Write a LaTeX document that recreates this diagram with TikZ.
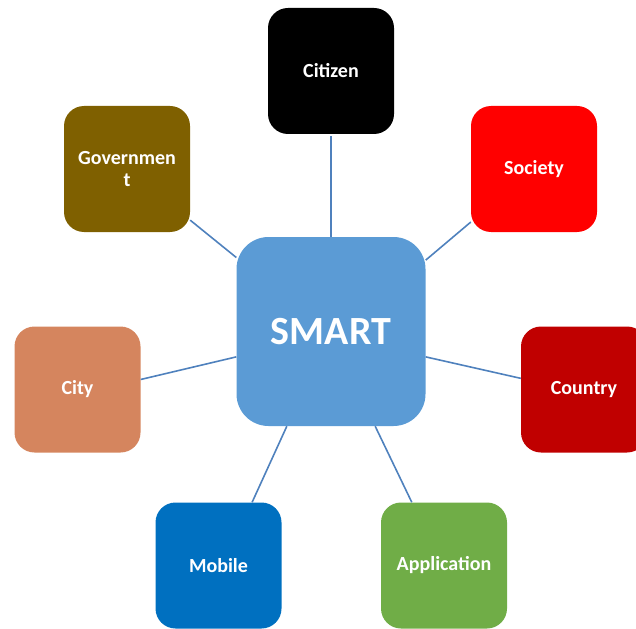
\documentclass[tikz,border=0pt]{standalone}
\usepackage{fontspec}
\setmainfont{Carlito}
\definecolor{cgov}{HTML}{7F6000}
\definecolor{csoc}{HTML}{FF0000}
\definecolor{ccity}{HTML}{D5855E}
\definecolor{ccountry}{HTML}{C00000}
\definecolor{cmobile}{HTML}{0070C0}
\definecolor{capp}{HTML}{70AD47}
\definecolor{csmart}{HTML}{5B9BD5}
\definecolor{cline}{HTML}{4F81BD}
\begin{document}
\begin{tikzpicture}[x=1pt,y=-1pt,
  box/.style={rectangle, rounded corners=20pt, minimum width=126pt, minimum height=126pt,
    inner sep=0pt, text=white, align=center,
    font=\fontsize{20}{22}\selectfont\bfseries},
  hub/.style={rectangle, rounded corners=32pt, minimum width=189pt, minimum height=189pt,
    inner sep=0pt, fill=csmart, text=white,
    font=\fontsize{40}{44}\selectfont\bfseries},
  link/.style={draw=cline, line width=1.6pt}]
\useasboundingbox (0,0) rectangle (636,628);
\clip (0,0) rectangle (636,628);
\node[hub] (smart) at (331,331.5) {SMART};
\node[box, fill=black] (citizen) at (331,71) {Citizen};
\node[box, fill=cgov] (gov) at (127,169) {Governmen\\t};
\node[box, fill=csoc] (soc) at (534,169) {Society};
\node[box, fill=ccity] (city) at (77.5,389.5) {City};
\node[box, fill=ccountry] (country) at (584,389.5) {Country};
\node[box, fill=cmobile] (mobile) at (218.5,565.5) {Mobile};
\node[box, fill=capp] (app) at (444,565.5) {Application};
\draw[link] ([yshift=-2pt]citizen.south) -- (smart.north);
\draw[link] (gov.-39.6) -- (smart.142.4);
\draw[link] (soc.-140.4) -- (smart.37.3);
\draw[link] (city.9.1) -- (smart.195.5);
\draw[link] (country.170.8) -- (smart.-15.4);
\draw[link] (mobile.62.5) -- (smart.245.9);
\draw[link] (app.117.9) -- (smart.-65.4);
\end{tikzpicture}
\end{document}
